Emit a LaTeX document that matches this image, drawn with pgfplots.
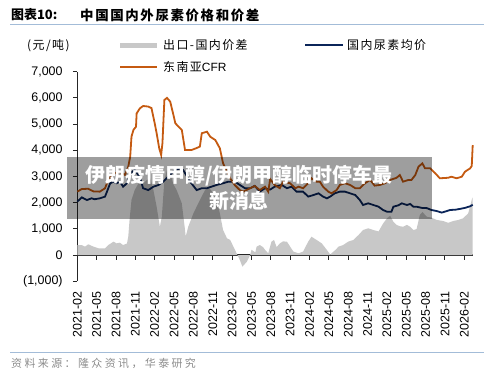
\documentclass[border=0pt]{standalone}
\usepackage{fontspec}
\setmainfont{Liberation Sans}
\newfontfamily\cjk{Noto Sans CJK SC}
\newfontfamily\cjksp[LetterSpace=12]{Noto Sans CJK SC}
\newfontfamily\cjkspw[LetterSpace=22]{Noto Sans CJK SC}
\usepackage{pgfplots}
\pgfplotsset{compat=1.18}
\definecolor{cfr}{HTML}{C55A11}
\definecolor{dom}{HTML}{0B2559}
\definecolor{spr}{HTML}{C8C8C8}
\definecolor{rulec}{HTML}{A3BCD8}
\definecolor{srcc}{HTML}{8C8C8C}

\begin{document}
\begin{tikzpicture}[x=1bp,y=1bp]
\useasboundingbox (0,0) rectangle (500,377);
% title
\node[anchor=west,inner sep=0] at (11,362) {\cjk\bfseries\fontsize{13}{13}\selectfont 图表10:};
\node[anchor=west,inner sep=0] at (80,362) {\cjksp\bfseries\fontsize{13.5}{13.5}\selectfont 中国国内外尿素价格和价差};
\draw[rulec, line width=1.2bp] (10,352.7) -- (484,352.7);
% unit
\node[anchor=west,inner sep=0] at (27,331) {\cjksp\fontsize{12}{12}\selectfont (元/吨)};
% legend
\fill[spr] (120,329.5) rectangle (157,334.5);
\node[anchor=west,inner sep=0] at (163,332) {\cjksp\fontsize{12}{12}\selectfont 出口-国内价差};
\draw[dom, line width=2bp] (305,332) -- (343,332);
\node[anchor=west,inner sep=0] at (347,332) {\cjksp\fontsize{12}{12}\selectfont 国内尿素均价};
\draw[cfr, line width=2bp] (120,310) -- (157,310);
\node[anchor=west,inner sep=0] at (163,310) {\cjksp\fontsize{12}{12}\selectfont 东南亚\fontspec{Liberation Sans}CFR};
% source
\draw[rulec, line width=1.2bp] (10,24.5) -- (484,24.5);
\node[anchor=west,inner sep=0,text=srcc] at (11,14) {\cjkspw\fontsize{11}{11}\selectfont 资料来源：隆众资讯，华泰研究};

\begin{axis}[
  at={(77.3bp,95.8bp)}, anchor=south west,
  scale only axis, width=395.4bp, height=209.5bp,
  xmin=0, xmax=61.3, ymin=-1000, ymax=7000,
  axis x line*=middle, axis y line*=left,
  hide obscured x ticks=false,
  axis line style={black!85, line width=1.2bp},
  tick align=outside,
  major tick length=4.5bp,
  tick style={black!85, line width=1bp},
  xtick={0,3,...,60},
  xticklabels={2021-02,2021-05,2021-08,2021-11,2022-02,2022-05,2022-08,2022-11,2023-02,2023-05,2023-08,2023-11,2024-02,2024-05,2024-08,2024-11,2025-02,2025-05,2025-08,2025-11,2026-02},
  xticklabel style={rotate=90, anchor=east, inner sep=0pt, font=\fontsize{12.5}{12.5}\selectfont},
  xticklabel shift=32bp,
  ytick={-1000,0,1000,2000,3000,4000,5000,6000,7000},
  yticklabels={{(1,000)},0,{1,000},{2,000},{3,000},{4,000},{5,000},{6,000},{7,000}},
  yticklabel style={anchor=east, inner sep=0pt, font=\fontsize{12.5}{12.5}\selectfont},
  yticklabel shift=10bp,
  clip=false,
]
% spread area
\addplot[fill=spr, draw=none] coordinates {
(0,380)(0.7,380)(1.2,320)(1.7,410)(2.5,320)(3.3,255)(4.3,255)(4.8,380)(5.6,510)(6.1,445)(6.6,470)(7.1,380)(7.7,440)(7.9,700)(8.1,1340)(8.4,2100)(8.9,2480)(9.5,2740)(10.0,2675)(10.8,2865)(11.3,2930)(11.8,2480)(12.3,1845)(12.8,1080)(13.1,1460)(13.5,2865)(13.9,3250)(14.4,3120)(14.9,2700)(15.4,2480)(16.2,1975)(16.7,955)(16.8,700)(17.2,1080)(18.0,1590)(19.0,2100)(19.8,2480)(20.3,2610)(20.8,2450)(21.6,2100)(22.1,1590)(22.6,955)(23.2,640)(23.7,575)(24.2,320)(24.7,65)(25.2,-190)(25.6,-445)(26.3,-250)(26.8,0)(27.0,200)(27.6,100)(27.8,320)(28.3,380)(28.8,300)(29.1,200)(29.6,65)(30.1,510)(30.5,575)(30.9,300)(31.4,445)(31.9,520)(32.5,510)(33.0,320)(33.5,130)(34.3,65)(35.0,130)(35.8,510)(36.3,700)(37.1,575)(37.9,445)(38.7,190)(39.2,20)(40.0,190)(40.5,320)(41.2,380)(42.0,510)(42.8,575)(43.6,765)(44.3,955)(45.1,1020)(45.9,955)(46.7,900)(47.4,1200)(48.0,1400)(48.5,1500)(49.0,1270)(49.5,1150)(50.0,1100)(50.5,1080)(51.1,1150)(51.6,1080)(52.1,955)(52.6,990)(53.1,1530)(53.5,1640)(54.2,1460)(54.9,1430)(55.7,1340)(56.7,1300)(57.5,1230)(58.3,1300)(59.1,1340)(59.8,1400)(60.6,1590)(61.2,2150)(61.3,2200)
} \closedcycle;
% domestic average price
\addplot[dom, line width=1.8bp] coordinates {
(0,2040)(0.7,2200)(1.5,2100)(2.2,2165)(2.7,2130)(3.5,2165)(4.3,2230)(4.6,2420)(5.1,2740)(5.6,2800)(6.1,2740)(6.6,2800)(7.1,2610)(7.7,2740)(8.2,3120)(8.9,3250)(9.7,2970)(10.2,2550)(11.0,2480)(11.8,2610)(12.6,2675)(13.3,2800)(14.1,2990)(15.1,3250)(15.9,3300)(16.4,3250)(17.5,2800)(18.5,2480)(19.3,2550)(20.1,2550)(20.8,2610)(21.6,2675)(22.6,2740)(23.4,2800)(24.4,2800)(25.2,2675)(26.0,2550)(26.8,2550)(27.5,2640)(28.3,2420)(29.1,2550)(29.9,2500)(30.6,2610)(31.7,2675)(32.5,2550)(33.2,2610)(34.0,2420)(35.0,2420)(35.8,2230)(36.6,2290)(37.4,2355)(38.1,2230)(38.7,2165)(39.2,2230)(39.9,2355)(40.7,2420)(41.5,2420)(42.3,2355)(43.1,2290)(43.8,2100)(44.3,1910)(45.1,1975)(45.9,1910)(46.7,1845)(47.4,1720)(48.0,1655)(48.7,1655)(49.0,1845)(49.8,1900)(50.3,1975)(51.1,1910)(51.6,1950)(52.1,1845)(52.6,1845)(53.4,1800)(54.2,1790)(54.9,1720)(55.7,1680)(56.5,1620)(57.3,1680)(57.8,1720)(58.6,1730)(59.3,1760)(60.1,1800)(60.9,1860)(61.3,1920)
};
% SE Asia CFR
\addplot[cfr, line width=1.8bp] coordinates {
(0,2420)(0.7,2520)(1.7,2530)(2.5,2430)(3.5,2420)(4.3,2550)(4.8,2865)(5.3,3056)(5.8,3120)(6.6,3180)(7.4,3056)(7.9,3375)(8.2,3755)(8.4,4520)(8.7,4775)(9.1,4900)(9.2,5410)(9.7,5600)(10.2,5690)(11.0,5670)(11.5,5610)(12.0,5030)(12.3,4650)(12.7,4075)(13.0,3820)(13.2,4270)(13.5,5920)(13.9,6000)(14.4,5860)(14.9,5350)(15.2,5030)(15.7,4900)(16.2,4780)(16.7,4010)(17.7,4010)(18.4,4075)(19.0,4140)(19.3,4650)(20.1,4710)(20.6,4520)(21.4,4390)(22.1,4075)(22.6,3500)(23.7,2930)(24.4,2675)(25.2,2480)(25.7,2420)(26.8,2550)(27.5,2635)(28.3,2480)(29.1,2610)(29.6,2420)(29.9,2900)(30.6,2675)(31.4,2550)(31.9,2800)(33.0,2740)(33.8,2550)(34.3,2610)(35.0,2550)(35.8,2740)(36.3,2930)(37.1,2800)(37.6,2800)(38.1,2610)(38.9,2420)(39.4,2355)(40.2,2480)(40.7,2675)(41.5,2740)(42.3,2675)(43.1,2550)(43.8,2550)(44.6,2740)(45.4,2865)(46.1,2650)(46.9,2675)(47.7,2740)(48.5,2865)(49.5,2950)(50.0,3056)(50.5,2800)(51.3,2865)(51.8,2865)(52.4,3056)(52.9,3375)(53.5,3500)(53.9,3310)(54.7,3310)(55.5,3120)(56.2,2930)(57.5,2950)(58.0,2990)(58.8,2930)(59.6,2990)(60.1,3180)(60.9,3310)(61.15,3400)(61.3,4200)
};
\end{axis}
% overlay banner
\fill[black, opacity=0.38] (66.7,157.7) rectangle (431.7,220.3);
\node[text=white, align=center, inner sep=0, font=\cjk\bfseries\fontsize{20}{26}\selectfont] at (239,189) {伊朗疫情甲醇/伊朗甲醇临时停车最\\新消息};
\end{tikzpicture}
\end{document}
